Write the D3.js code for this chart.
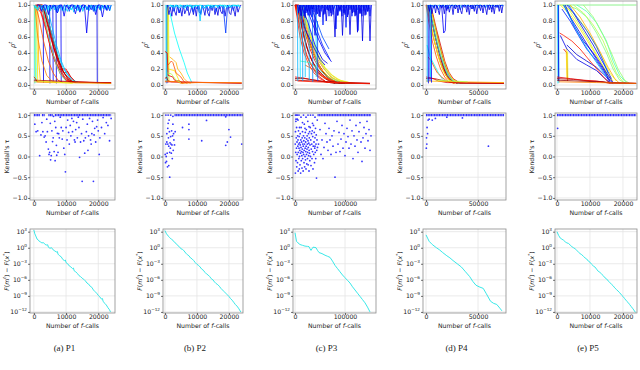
<!DOCTYPE html>
<html><head><meta charset="utf-8">
<script src="https://cdn.jsdelivr.net/npm/d3@7"></script>
<style>
body{margin:0;background:#fff;}
svg text{font-family:"DejaVu Sans",sans-serif;}
</style></head><body><svg id="chart" width="640" height="370"></svg>
<script>
const captions = ["(a) P1", "(b) P2", "(c) P3", "(d) P4", "(e) P5"];
const xLimits = [[-1200, 25200], [-600, 24400], [-4000, 162000], [-2900, 76900], [-600, 24250]];
const xTicks = [[0, 10000, 20000], [0, 10000, 20000], [0, 100000], [0, 50000], [0, 10000, 20000]];
const rhoTicks = [0, 0.2, 0.4, 0.6, 0.8, 1.0];
const tauTicks = [-1, -0.5, 0, 0.5, 1];
const gapTicks = [3, 0, -3, -6, -9, -12];

// rho^t runs: [colour value, x, y, x, y, ...]
const rhoP1 = [
  [0.1, 2900,1, 3000,0.03], [0.1, 4900,1, 5000,0.02], [0.12, 5900,1, 6000,0.05], [0.1, 6900,1, 7000,0.02],
  [0.12, 8400,1, 8500,0.03], [0.1, 19600,1, 19700,0.02], [0.35, 200,1, 300,0.02], [0.4, 600,1, 700,0.03],
  [0.55, 300,1, 500,0.05], [0.65, 800,1, 1000,0.6, 1200,0.04], [0.7, 1200,1, 1500,0.3, 2000,0.05],
  [0.95, 500,1, 2500,1, 3500,0.88, 5000,0.66, 6500,0.42, 8000,0.22, 9500,0.1, 11000,0.05, 13000,0.03, 24000,0.03],
  [0.9, 1000,1, 3000,0.98, 4500,0.8, 6000,0.55, 7500,0.33, 9000,0.18, 10500,0.08, 12000,0.04, 24000,0.02],
  [0.85, 1500,1, 3000,0.9, 4500,0.6, 6000,0.38, 7000,0.28, 8500,0.15, 10000,0.06, 12000,0.03],
  [0.88, 800,1, 2000,0.95, 3500,0.75, 5000,0.5, 6500,0.3, 8000,0.19, 9000,0.2, 10000,0.2, 11000,0.12, 12500,0.05, 14000,0.03],
  [0.8, 500,1, 1500,0.85, 3000,0.55, 4500,0.3, 6000,0.15, 7500,0.06, 9000,0.03],
  [0.75, 300,1, 1200,0.6, 2500,0.3, 4000,0.12, 5500,0.05, 7000,0.03],
  [0.98, 2000,1, 3500,0.95, 5000,0.72, 6500,0.5, 8000,0.28, 9500,0.14, 11000,0.06, 13000,0.03],
  [0.92, 1200,1, 2800,1, 4000,0.78, 5500,0.55, 7000,0.36, 8500,0.2, 9500,0.15, 10500,0.17, 11500,0.1, 13000,0.04],
  [0.94, 1800,1, 3200,0.93, 4800,0.7, 6200,0.47, 7600,0.3, 9000,0.17, 10500,0.1, 12000,0.05],
  [0.87, 600,1, 2200,0.9, 3800,0.68, 5200,0.46, 6800,0.27, 8200,0.14, 9800,0.07, 11500,0.03],
  [0.35, 3000,1, 4500,0.8, 6000,0.58, 7500,0.38, 9000,0.22, 10500,0.12, 12000,0.06, 14000,0.03],
  [0.3, 4000,1, 5500,0.75, 7000,0.5, 8500,0.3, 10000,0.16, 11500,0.08],
  [0.45, 2500,1, 4000,0.7, 5500,0.45, 7000,0.25, 8500,0.12, 10000,0.05],
  [0.9, 0,0.1, 500,0.08, 1000,0.04, 24000,0.03], [0.95, 0,0.06, 24000,0.025],
  [0.7, 0,0.04, 5000,0.03, 24000,0.02], [0.6, 1000,0.05, 9000,0.03, 12000,0.02]
];
const rhoP2 = [
  [0.1, 800,1, 900,0.03], [0.2, 500,1, 600,0.02], [0.35, 300,1, 400,0.03], [0.5, 700,1, 800,0.05], [0.6, 1100,1, 1300,0.04],
  [0.65, 900,0.97, 1000,0.2, 3000,0.18, 4500,0.05, 6000,0.02],
  [0.38, 1600,0.9, 3000,0.65, 4500,0.45, 6000,0.28, 7000,0.15, 8400,0.03],
  [0.7, 1500,0.35, 2500,0.32, 3500,0.28, 4000,0.2, 5000,0.15, 6000,0.08, 7000,0.04, 8000,0.02],
  [0.8, 1000,0.25, 2000,0.3, 2500,0.28, 3500,0.15, 5000,0.1, 6000,0.04, 7000,0.02],
  [0.9, 0,0.42, 700,0.4, 1000,0.12, 2500,0.1, 3000,0.06, 4500,0.05, 5500,0.02],
  [0.95, 0,0.08, 500,0.1, 1000,0.05, 2000,0.04, 24000,0.02], [0.85, 0,0.04, 24000,0.025],
  [0.75, 0,0.05, 4000,0.04, 5000,0.02, 10000,0.03, 24000,0.03], [0.55, 800,0.15, 2000,0.14, 3500,0.06, 5000,0.03]
];
const rhoP3 = [
  [0.95, 0,1, 8000,1, 15000,0.85, 25000,0.6, 35000,0.42, 45000,0.28, 55000,0.17, 65000,0.1, 75000,0.05, 90000,0.02],
  [0.9, 0,1, 5000,1, 12000,0.85, 20000,0.65, 30000,0.45, 40000,0.3, 50000,0.2, 60000,0.12, 70000,0.07, 85000,0.03],
  [1.0, 2000,1, 10000,0.95, 18000,0.75, 28000,0.55, 38000,0.38, 48000,0.25, 58000,0.15, 70000,0.08, 85000,0.03, 100000,0.02],
  [0.88, 0,1, 6000,0.92, 14000,0.7, 22000,0.5, 32000,0.33, 42000,0.22, 52000,0.14, 62000,0.08, 75000,0.03],
  [0.93, 3000,1, 12000,0.92, 20000,0.72, 30000,0.5, 40000,0.35, 50000,0.22, 62000,0.13, 75000,0.06, 90000,0.03],
  [0.97, 1000,1, 9000,0.9, 16000,0.68, 24000,0.47, 34000,0.3, 44000,0.18, 55000,0.1, 68000,0.05, 80000,0.02],
  [0.85, 0,1, 4000,0.85, 10000,0.6, 18000,0.4, 28000,0.25, 38000,0.15, 50000,0.08, 65000,0.03],
  [0.9, 500,1, 7000,0.8, 15000,0.55, 25000,0.35, 35000,0.22, 45000,0.12, 60000,0.05],
  [0.95, 1500,1, 10000,0.85, 17000,0.62, 27000,0.4, 37000,0.27, 47000,0.18, 60000,0.1, 72000,0.05, 95000,0.02],
  [0.82, 2000,1, 8000,0.8, 15000,0.55, 22000,0.38, 32000,0.25, 45000,0.15, 60000,0.09, 80000,0.04, 110000,0.02],
  [0.7, 8000,1, 18000,0.85, 28000,0.65, 40000,0.42, 55000,0.25, 70000,0.14, 85000,0.07, 100000,0.04, 115000,0.02],
  [0.6, 12000,1, 22000,0.8, 32000,0.6, 45000,0.4, 60000,0.22, 75000,0.12, 90000,0.06, 110000,0.03],
  [0.65, 5000,1, 14000,0.82, 25000,0.58, 38000,0.38, 52000,0.2, 68000,0.1, 85000,0.05, 105000,0.02],
  [0.75, 10000,1, 20000,0.78, 30000,0.55, 42000,0.35, 58000,0.2, 72000,0.1, 90000,0.04],
  [0.55, 15000,1, 25000,0.75, 38000,0.5, 50000,0.3, 65000,0.15, 80000,0.07, 100000,0.03, 120000,0.02],
  [0.45, 10000,0.3, 30000,0.28, 50000,0.18, 70000,0.08, 90000,0.03],
  [0.8, 20000,0.25, 35000,0.2, 50000,0.12, 65000,0.08, 80000,0.05],
  [1.0, 0,0.08, 20000,0.08, 40000,0.06, 60000,0.04, 80000,0.02, 150000,0.02],
  [0.9, 0,0.1, 15000,0.09, 30000,0.07, 50000,0.05, 70000,0.03, 150000,0.02],
  [0.95, 0,0.06, 150000,0.02], [0.85, 5000,0.05, 40000,0.04, 150000,0.015],
  [0.3, 5000,1, 5500,0.05], [0.35, 10000,1, 10500,0.08], [0.28, 15000,1, 15500,0.05], [0.32, 20000,1, 20500,0.1],
  [0.3, 28000,1, 28500,0.06], [0.25, 35000,1, 35500,0.04], [0.35, 42000,1, 42500,0.1], [0.2, 45000,0.8, 45500,0.05],
  [0.1, 12000,1, 25000,0.8, 40000,0.5, 55000,0.32, 65000,0.27],
  [0.12, 18000,1, 30000,0.85, 45000,0.6, 60000,0.4, 73000,0.29],
  [0.15, 25000,1, 40000,0.75, 55000,0.5, 70000,0.32],
  [0.2, 30000,1, 42000,0.82, 55000,0.6, 68000,0.45],
  [0.1, 10000,0.9, 20000,0.7, 35000,0.5, 50000,0.32, 60000,0.25]
];
const rhoP4 = [
  [0.95, 500,1, 3000,0.98, 6000,0.8, 10000,0.55, 14000,0.35, 18000,0.18, 22000,0.08, 26000,0.04, 30000,0.02, 75000,0.02],
  [0.9, 1000,1, 4000,0.9, 8000,0.65, 12000,0.45, 16000,0.28, 20000,0.14, 24000,0.06, 28000,0.03],
  [1.0, 2000,1, 5000,0.95, 9000,0.72, 13000,0.5, 17000,0.3, 21000,0.15, 25000,0.06, 30000,0.02],
  [0.85, 500,1, 3000,0.85, 7000,0.6, 11000,0.4, 15000,0.24, 19000,0.12, 23000,0.05, 27000,0.02],
  [0.92, 3000,1, 6000,0.92, 10000,0.7, 14000,0.5, 18000,0.3, 22000,0.16, 26000,0.08, 32000,0.03],
  [0.97, 1500,1, 4500,0.88, 8500,0.62, 12500,0.4, 16500,0.22, 20500,0.1, 25000,0.04],
  [0.8, 0,1, 2500,0.8, 6000,0.55, 10000,0.35, 14000,0.2, 18000,0.1, 22000,0.04, 28000,0.02],
  [0.75, 1000,1, 4000,0.78, 8000,0.55, 12000,0.35, 16000,0.2, 20000,0.1, 25000,0.04],
  [0.35, 2000,1, 5000,0.85, 9000,0.6, 13000,0.4, 17000,0.25, 21000,0.12, 26000,0.05, 32000,0.02],
  [0.5, 3000,1, 7000,0.8, 11000,0.55, 15000,0.35, 19000,0.2, 24000,0.08, 30000,0.03],
  [0.6, 1500,1, 5000,0.75, 9000,0.5, 13000,0.3, 17000,0.16, 22000,0.06, 28000,0.02],
  [0.68, 4000,1, 8000,0.78, 12000,0.55, 16000,0.36, 20000,0.2, 25000,0.08, 31000,0.03],
  [0.4, 1000,0.5, 4000,0.35, 8000,0.25, 12000,0.15, 16000,0.07, 20000,0.03],
  [0.8, 2000,0.35, 5000,0.3, 8000,0.22, 11000,0.15, 15000,0.1, 20000,0.05, 25000,0.03],
  [0.95, 0,0.08, 8000,0.08, 15000,0.06, 25000,0.03, 75000,0.02],
  [0.9, 0,0.1, 5000,0.09, 12000,0.05, 20000,0.03, 75000,0.025],
  [0.7, 0,0.05, 30000,0.04, 75000,0.03], [0.55, 10000,0.06, 25000,0.05, 40000,0.04],
  [0.1, 2000,1, 2300,0.02], [0.15, 3500,1, 3800,0.05], [0.12, 5000,1, 5300,0.03], [0.3, 1000,1, 1200,0.04], [0.35, 4000,1, 4300,0.1],
  [0.12, 15000,1, 17000,0.65, 18500,0.68, 19500,1]
];
const rhoP5 = [
  [0.5, 0,1, 24000,1],
  [0.5, 3000,1, 6000,0.95, 9000,0.85, 12000,0.65, 15000,0.4, 17000,0.2, 19000,0.06, 21000,0.02],
  [0.55, 5000,1, 8000,0.9, 11000,0.75, 14000,0.55, 16000,0.35, 18000,0.15, 20000,0.04],
  [0.6, 2000,1, 5000,0.9, 8000,0.75, 11000,0.55, 14000,0.32, 16000,0.15, 18000,0.05],
  [0.65, 1000,1, 4000,0.88, 7000,0.7, 10000,0.5, 13000,0.3, 15000,0.15, 17000,0.05],
  [0.45, 6000,1, 9000,0.92, 12000,0.78, 15000,0.55, 17000,0.3, 19000,0.12, 21000,0.03],
  [0.7, 4000,1, 7000,0.85, 10000,0.65, 13000,0.42, 15500,0.22, 17500,0.08, 19000,0.02],
  [0.52, 8000,1, 11000,0.85, 14000,0.62, 16500,0.4, 18500,0.2, 20500,0.06, 22000,0.02],
  [0.58, 1500,1, 3500,0.95, 6000,0.8, 9000,0.6, 12000,0.38, 14500,0.2, 16500,0.06],
  [0.1, 2000,1, 4000,0.85, 7000,0.65, 10000,0.45, 12000,0.32, 14000,0.2, 16000,0.06, 17000,0.02],
  [0.12, 3000,1, 5000,0.9, 8000,0.7, 11000,0.5, 13000,0.35, 15000,0.2, 16500,0.08],
  [0.15, 1500,0.95, 4000,0.8, 6500,0.62, 9000,0.45, 12000,0.3, 14500,0.15, 16000,0.05],
  [0.1, 2500,1, 5000,0.75, 8000,0.55, 11000,0.4, 13500,0.25, 15500,0.12, 17000,0.03],
  [0.2, 3500,1, 6000,0.85, 9000,0.68, 12000,0.48, 14000,0.3, 15500,0.15],
  [0.08, 3000,0.5, 6000,0.38, 9000,0.3, 12000,0.22, 14000,0.14, 15000,0.1, 16000,0.04],
  [0.1, 1000,0.62, 3000,0.45, 6000,0.32, 9000,0.25, 12000,0.18, 14000,0.1, 16000,0.03],
  [0.3, 2000,1, 4500,0.8, 7000,0.6, 10000,0.4, 13000,0.22, 15000,0.1],
  [0.85, 800,0.65, 2000,0.62, 4500,0.55, 7000,0.45, 10000,0.3, 12500,0.18, 14500,0.08, 16000,0.02],
  [0.9, 2000,0.45, 3000,0.4, 3200,0.05], [0.65, 2800,0.45, 3000,0.08], [0.6, 3200,0.42, 3300,0.06],
  [0.35, 200,1, 300,0.02], [0.3, 500,1, 600,0.03], [0.1, 400,1, 500,0.05],
  [0.95, 0,0.08, 5000,0.07, 10000,0.05, 14000,0.04, 16000,0.02, 24000,0.02],
  [0.9, 0,0.1, 4000,0.08, 8000,0.06, 12000,0.05, 15000,0.03, 24000,0.02],
  [0.98, 0,0.06, 24000,0.02], [0.75, 500,0.04, 12000,0.03, 24000,0.02]
];
// runs that stay near rho = 1: [colour value, first x, x step, values in %]
const bandP1 = [
  [0.32, 0, 400, [100,96,99,93,100,97,94,100,98,92,99,95,100,93,97,100,94,99,96,92,100,97,93,99,100,95,92,98,100,94,97,91,100,96,99,93,98,100,92,96,100,95,98,93,100,97,94,99,92,100,96,98,93,100,95,99,94,100,97,93,100]],
  [0.38, 300, 600, [100,95,98,100,94,97,100,93,99,96,100,94,98,100,95,92,99,100,96,94,100,98,93,100,97,95,100,94,99,96,100,93,98,100,95,97,100,94,99,96]],
  [0.2, 2000, 500, [100,97,100,93,100,98,100,95,100,99,91,100,96,100,94,100,98,100,92,100,97,100,95,100,99,93,100,96,100,94,100,98,100,92,100,96,100,94,100,97,100,95,100,93,100]],
  [0.12, 1000, 700, [100,100,92,100,100,88,100,97,100,90,100,100,86,100,95,100,100,89,100,91,100,100,65,100,94,100,88,100,100,85,100,93,100]]
];
const bandP2 = [
  [0.1, 800, 450, [100,88,97,86,100,92,87,100,90,96,86,100,89,94,100,87,92,100,88,98,86,100,91,89,100,95,87,100,90,86,99,93,100,88,96,87,100,92,89,100,86,97,100,90,88,100,94,86,100,91,97,100]],
  [0.18, 1000, 600, [100,95,100,92,100,97,90,100,96,100,93,100,98,91,100,95,100,88,100,96,100,93,100,97,100,92,100,95,100,90,65,100,96,100,93,100,97,100]],
  [0.32, 1500, 500, [100,98,100,97,100,99,96,100,98,100,97,100,99,100,96,100,98,100,97,80,100,98,100,97,100,99,96,100,98,100,97,100,99,100,96,100,98,100,97,100,99,100,98,100,97]],
  [0.38, 1200, 700, [99,100,97,100,98,100,99,96,100,98,100,97,100,99,100,98,96,100,99,100,97,100,98,100,99,100,97,100,98,100,99,100,97]]
];
const bandP3 = [
  [0.25, 8000, 3000, [100,96,100,98,94,100,97,100,95,100,98,100,93,100,97,100,96,100,98,94,100,97,100,95,100,98,100,93,100,97,100,96,100,98,100,95,100,97,100,94,100,98,100,96,100,97,100,95]],
  [0.15, 6000, 2000, [100,92,100,88,100,95,86,100,90,100,87,100,93,100,85,100,91,100,88,97,100,86,100,92,100,75,100,89,100,94,100,86,100,90,100,88,100,95,70,100,87,100,92,100,86,100,90,100,72,100,88,100,94,100,86,100,91,100,87,100,68,100,90,100,86,100,93,100,88,100,92,100,86,100]],
  [0.1, 5000, 2500, [100,90,100,86,97,100,84,100,92,100,87,100,95,100,62,100,89,100,85,98,100,88,100,80,100,93,100,86,100,91,60,100,87,100,94,100,62,100,88,100,85,100,63,100,90,100,86,100,66,100,89,100,55,100,87,100,92,100,55,100]]
];
const bandP4 = [
  [0.3, 2500, 2000, [99,100,98,100,97,100,99,100,98,100,96,100,99,100,98,100,97,100,99,100,98,100,96,100,99,100,98,100,97,100,99,100,98,100,97,100,99]],
  [0.2, 3000, 1500, [100,98,100,96,100,99,94,100,98,100,97,100,95,100,99,100,96,100,98,100,94,100,99,100,97,100,98,100,95,100,99,100,96,100,98,100,97,100,99,100,95,100,98,100,97,100,99,100]],
  [0.1, 2000, 1200, [100,92,100,89,97,100,90,100,94,88,100,96,100,89,100,93,100,91,98,100,88,100,95,100,90,100,93,89,100,97,100,91,100,88,100,95,100,92,100,89,99,100,93,100,90,100,96,88,100,94,100,91,100,89,100,97,100,92,100,90,100]]
];
const bandP5 = [];

// Kendall's tau points [x, tau]
const tauP1 = [[300,0.78],[700,0.6],[1200,0.62],[1800,0.02],[2200,0.52],[2500,0.82],[2800,0.6],[3200,0.47],[3500,0.5],[3800,0.35],[4000,0.9],[4200,0.6],[4500,0.18],[4700,0.05],[4900,0.1],[5100,0.8],[5200,-0.08],[5400,0.02],[5600,0.62],[5800,0.36],[6000,0.45],[6100,0.97],[6300,0.12],[6500,0.85],[6600,-0.1],[6800,0.7],[7000,0.27],[7100,0.03],[7300,0.56],[7500,0.1],[7700,0.55],[7900,0.45],[8200,0.95],[8500,0.7],[8800,0.42],[9000,0.62],[9300,0.2],[9600,0.05],[9800,-0.37],[10000,0.7],[10300,0.4],[10500,0.88],[10800,0.58],[11000,0.3],[11300,0.75],[11500,0.5],[11800,0.92],[12000,0.6],[12300,0.85],[12600,0.4],[12800,0.35],[13000,0.65],[13300,0.82],[13500,0.45],[13800,0.95],[14000,0.7],[14200,-0.02],[14500,0.35],[14800,0.55],[15000,-0.6],[15200,0.9],[15500,0.38],[15800,0.08],[16000,0.45],[16300,0.6],[16600,0.78],[16800,0.15],[17000,0.5],[17300,0.92],[17600,0.4],[17800,0.3],[18000,0.55],[18200,0.85],[18500,-0.6],[18700,0.52],[18900,0.68],[19200,0.35],[19500,0.72],[19800,0.88],[20000,0.62],[20300,0.05],[20500,0.45],[21000,0.7],[21500,0.94],[22000,0.55],[22500,0.82],[23000,0.75],[23500,0.38],[24000,0.92]];
const tauP2 = [[100,0.05],[200,-0.15],[300,0.3],[400,0.0],[500,-0.12],[600,0.55],[600,0.35],[700,0.08],[800,-0.25],[900,0.3],[900,0.68],[1000,0.8],[1100,0.45],[1200,0.25],[1200,-0.22],[1300,0.88],[1400,0.6],[1500,-0.5],[1500,0.1],[1600,0.33],[1700,0.2],[1800,0.48],[1900,0.3],[2000,0.08],[2100,0.62],[2200,0.28],[2300,-0.05],[2400,0.5],[2500,0.78],[2600,0.15],[2700,0.55],[2800,0.4],[3000,0.28],[3200,0.6],[5500,0.7],[7500,0.78],[7500,0.65],[7500,0.42],[11500,0.38],[13000,0.87],[19000,0.96],[19000,0.27],[19500,0.35],[20000,0.65],[20500,0.47],[24000,0.3],[300,1],[1000,1],[1800,1],[2500,0.97]];
const tauP3 = [[500,0.3],[800,-0.4],[1000,0.6],[1500,0.1],[1800,0.85],[2000,-0.1],[2500,0.45],[3000,0.2],[3200,0.7],[3500,-0.25],[4000,0.35],[4300,0.05],[4500,0.9],[5000,-0.15],[5300,0.5],[5600,0.25],[6000,0.4],[6300,-0.35],[6600,0.1],[7000,0.62],[7300,0.3],[7600,-0.05],[8000,0.2],[8300,0.48],[8600,-0.3],[9000,0.0],[9300,0.33],[9600,0.15],[10000,-0.2],[10300,0.55],[10600,0.28],[11000,0.08],[11300,-0.4],[11600,0.4],[12000,0.22],[12300,0.7],[12600,-0.1],[13000,0.12],[13300,0.35],[13600,0.02],[14000,-0.28],[14300,0.45],[14600,0.18],[15000,0.6],[15300,-0.05],[15600,0.3],[16000,0.1],[16300,-0.35],[16600,0.25],[17000,0.5],[17300,0.05],[17600,0.38],[18000,-0.15],[18300,0.15],[18600,0.78],[19000,0.3],[19300,-0.25],[19600,0.45],[20000,0.0],[20300,0.2],[20600,0.58],[21000,-0.08],[21300,0.35],[21600,0.12],[22000,-0.3],[22300,0.25],[22600,0.65],[23000,0.05],[23300,0.42],[23600,-0.18],[24000,0.18],[24300,0.5],[24600,0.3],[25000,-0.05],[25300,0.1],[25600,0.85],[26000,0.38],[26300,-0.2],[26600,0.22],[27000,0.55],[27300,0.02],[27600,0.32],[28000,-0.35],[28300,0.15],[28600,0.45],[29000,0.08],[29300,0.6],[29600,-0.1],[30000,0.28],[30500,0.7],[31000,0.0],[31500,0.4],[32000,-0.22],[32500,0.18],[33000,0.55],[33500,0.3],[34000,-0.05],[34500,0.62],[35000,0.12],[35500,0.48],[36000,-0.3],[36500,0.25],[37000,0.75],[37500,0.05],[38000,0.35],[38500,0.58],[39000,-0.15],[39500,0.2],[40000,0.45],[40500,0.1],[41000,0.68],[41500,-0.05],[42000,0.3],[42500,0.52],[43000,-0.52],[43500,0.15],[44000,0.4],[44500,0.88],[45000,0.22],[2000,0.9],[6000,0.88],[9000,0.7],[15000,0.82],[20000,0.68],[28000,0.72],[35000,0.8],[40000,0.25],[47000,0.3],[50000,0.65],[52000,0.05],[54000,0.4],[56000,-0.05],[58000,0.22],[60000,0.8],[62000,0.55],[64000,0.35],[66000,0.15],[68000,0.68],[70000,0.4],[72000,0.05],[74000,0.5],[76000,0.25],[78000,0.62],[80000,-0.5],[82000,0.1],[84000,0.85],[86000,0.3],[88000,0.58],[90000,0.12],[92000,0.42],[94000,0.75],[96000,0.2],[98000,0.55],[100000,0.02],[102000,0.35],[104000,0.68],[106000,0.48],[108000,0.2],[110000,0.88],[112000,0.3],[114000,0.62],[116000,-0.05],[118000,0.5],[120000,0.25],[122000,0.75],[124000,0.4],[126000,0.1],[128000,0.6],[130000,0.82],[132000,0.35],[134000,-0.12],[136000,0.45],[138000,0.7],[140000,0.2],[142000,0.55],[144000,0.85],[146000,0.38],[148000,0.65],[150000,0.15],[152000,0.5],[1000,1],[3000,1],[5000,1],[8000,1],[12000,0.95],[17000,1],[22000,0.95],[26000,1],[31000,1],[36000,1],[40000,0.95]];
const tauP4 = [[300,0.2],[500,0.45],[800,0.3],[1000,0.7],[1500,0.55],[2000,0.88],[3000,0.9],[6000,0.88],[9000,0.92],[20000,0.95],[35000,0.93],[60000,0.25]];
const tauP5 = [[200,0.68]];
// stretches where tau = 1 for (almost) every call: [from, to]
const tauOneP1 = [[0, 2000], [2500, 3500], [4500, 6000], [6500, 24000]];
const tauOneP2 = [[3000, 24500]];
const tauOneP3 = [[45000, 152000]];
const tauOneP4 = [[0, 75000]];
const tauOneP5 = [[0, 24000]];

// F(m^t) - F(x*) as [x, log10 value]
const gapP1 = [[0,3.3],[300,2.6],[600,2.2],[1000,1.6],[1300,1.5],[1500,1.3],[2000,1.1],[2500,0.9],[3000,0.95],[3500,0.6],[4000,0.5],[4300,0.55],[4500,0.1],[5000,-0.1],[5500,0.0],[6000,-0.4],[6500,-0.6],[7000,-0.8],[7300,-0.7],[7500,-1.2],[8000,-1.5],[8500,-1.7],[9000,-2.2],[9500,-2.4],[9800,-2.3],[10000,-2.8],[10500,-3.0],[11000,-3.4],[11500,-3.6],[12000,-3.9],[12300,-3.8],[12500,-4.3],[13000,-4.5],[13500,-4.8],[14000,-5.2],[14500,-5.4],[15000,-5.7],[15500,-5.9],[16000,-6.2],[16500,-6.6],[17000,-6.8],[17500,-7.2],[18000,-7.4],[18500,-7.9],[19000,-8.2],[19500,-8.5],[20000,-8.9],[20500,-9.2],[21000,-9.6],[21300,-9.5],[21500,-10.0],[22000,-10.4],[22500,-10.7],[23000,-11.2],[23500,-11.6],[23800,-12.0]];
const gapP2 = [[0,3.2],[500,2.6],[1000,2.2],[1500,1.9],[2000,1.6],[2500,1.4],[3000,1.0],[3500,0.8],[4000,0.4],[4500,0.2],[5000,-0.2],[5500,-0.3],[6000,-0.6],[6500,-1.0],[7000,-1.3],[7500,-1.5],[8000,-1.9],[8500,-2.1],[9000,-2.4],[9500,-2.8],[10000,-3.1],[10500,-3.3],[11000,-3.6],[11500,-4.0],[12000,-4.2],[12500,-4.6],[13000,-4.9],[13500,-5.1],[14000,-5.4],[14500,-5.8],[15000,-6.0],[15500,-6.4],[16000,-6.7],[16500,-6.9],[17000,-7.2],[17500,-7.6],[18000,-7.9],[18500,-8.2],[19000,-8.5],[19500,-8.8],[20000,-9.1],[20500,-9.5],[21000,-9.8],[21500,-10.2],[22000,-10.6],[22500,-10.9],[23000,-11.3],[23700,-12.0]];
const gapP3 = [[0,2.8],[1500,2.0],[3000,1.2],[6000,0.9],[10000,0.6],[15000,0.45],[20000,0.3],[25000,0.25],[28000,0.2],[30000,-0.2],[32000,-0.5],[34000,-0.2],[36000,0.1],[40000,0.05],[42000,0.0],[45000,-0.5],[48000,-0.9],[54000,-1.1],[60000,-1.4],[65000,-1.6],[70000,-1.8],[75000,-2.5],[80000,-3.3],[85000,-3.9],[90000,-4.5],[95000,-5.1],[100000,-5.6],[105000,-6.1],[110000,-6.6],[115000,-7.3],[120000,-7.9],[125000,-8.5],[130000,-9.1],[135000,-9.7],[140000,-10.3],[145000,-11.1],[150000,-12.0]];
const gapP4 = [[0,2.4],[1500,1.8],[3000,1.2],[6000,0.6],[10000,0.0],[13000,-0.4],[16000,-0.9],[20000,-1.5],[23000,-1.9],[26000,-2.4],[30000,-3.0],[34000,-3.6],[38000,-4.5],[42000,-5.4],[45000,-6.3],[48000,-7.0],[51000,-7.3],[55000,-7.6],[58000,-8.6],[62000,-10.0],[65000,-10.4],[68000,-10.6],[71000,-11.3],[73000,-11.8]];
const gapP5 = [[0,3.0],[500,2.3],[1000,1.8],[1500,1.6],[2000,1.4],[2500,1.1],[3000,0.9],[3500,0.8],[4000,0.5],[4500,0.2],[5000,0.0],[5500,-0.2],[6000,-0.5],[6500,-0.8],[7000,-1.1],[7500,-1.3],[8000,-1.6],[8500,-1.9],[9000,-2.1],[9500,-2.5],[10000,-2.7],[10500,-3.1],[11000,-3.4],[11500,-3.6],[12000,-4.0],[12500,-4.4],[13000,-4.6],[13500,-4.9],[14000,-5.2],[14500,-5.6],[15000,-5.8],[15500,-6.2],[16000,-6.5],[16500,-6.8],[17000,-7.1],[17500,-7.5],[18000,-7.8],[18500,-8.1],[19000,-8.4],[19500,-8.8],[20000,-9.1],[20500,-9.5],[21000,-9.9],[21500,-10.2],[22000,-10.6],[22500,-11.0],[23000,-11.4],[23800,-12.1]];

const rhoRuns = [rhoP1, rhoP2, rhoP3, rhoP4, rhoP5];
const rhoBands = [bandP1, bandP2, bandP3, bandP4, bandP5];
const tauPts = [tauP1, tauP2, tauP3, tauP4, tauP5];
const tauOne = [tauOneP1, tauOneP2, tauOneP3, tauOneP4, tauOneP5];
const gaps = [gapP1, gapP2, gapP3, gapP4, gapP5];

// layout
const colX = [[30, 115], [163, 243], [293, 376], [423, 506], [555, 637]];
const rowY = [[1, 89], [113, 200], [229, 313]];
const fs = 6.2;
const svg = d3.select("#chart");
const defs = svg.append("defs");

function jet(t) {
  const c = v => Math.max(0, Math.min(1, v));
  return d3.rgb(255 * c(1.5 - Math.abs(4 * t - 3)), 255 * c(1.5 - Math.abs(4 * t - 2)), 255 * c(1.5 - Math.abs(4 * t - 1))).formatHex();
}

function xLabel(g, x, y) {
  const t = g.append("text").attr("x", x).attr("y", y).attr("text-anchor", "middle").attr("font-size", fs).attr("fill", "#222");
  t.append("tspan").text("Number of ");
  t.append("tspan").attr("font-style", "italic").text("f");
  t.append("tspan").text("-calls");
}

function panel(col, row, y, yTicks, yFmt) {
  const [l, r] = colX[col], [t, b] = rowY[row];
  const x = d3.scaleLinear().domain(xLimits[col]).range([l, r]);
  const g = svg.append("g");
  // grid
  g.append("g").selectAll("line").data(xTicks[col]).join("line")
    .attr("x1", d => x(d)).attr("x2", d => x(d)).attr("y1", t).attr("y2", b)
    .attr("stroke", "#e4e4e4").attr("stroke-width", 0.8);
  g.append("g").selectAll("line").data(yTicks).join("line")
    .attr("x1", l).attr("x2", r).attr("y1", d => y(d)).attr("y2", d => y(d))
    .attr("stroke", "#e4e4e4").attr("stroke-width", 0.8);
  const id = "clip" + col + row;
  defs.append("clipPath").attr("id", id).append("rect").attr("x", l).attr("y", t).attr("width", r - l).attr("height", b - t);
  const plot = g.append("g").attr("clip-path", `url(#${id})`);
  g.append("rect").attr("x", l).attr("y", t).attr("width", r - l).attr("height", b - t)
    .attr("fill", "none").attr("stroke", "#8c8c8c").attr("stroke-width", 0.8);
  // x ticks
  const xa = g.append("g").attr("transform", `translate(0,${b})`)
    .call(d3.axisBottom(x).tickValues(xTicks[col]).tickSize(2).tickPadding(0).tickFormat(d3.format("d")));
  xa.select(".domain").remove();
  xa.selectAll("line").attr("stroke", "#333").attr("stroke-width", 0.7);
  xa.selectAll("text").attr("font-size", fs).attr("font-family", "DejaVu Sans").attr("fill", "#222");
  // y ticks
  const ya = g.append("g").attr("transform", `translate(${l},0)`)
    .call(d3.axisLeft(y).tickValues(yTicks).tickSize(2).tickPadding(0.5).tickFormat(yFmt || ""));
  ya.select(".domain").remove();
  ya.selectAll("line").attr("stroke", "#333").attr("stroke-width", 0.7);
  ya.selectAll("text").attr("font-size", fs).attr("font-family", "DejaVu Sans").attr("fill", "#222");
  xLabel(g, (l + r) / 2, b + 15.3);
  return {x, g, plot, l, t, b};
}

const line = d3.line();

captions.forEach((cap, i) => {
  // row 1: rho^t
  const y1 = d3.scaleLinear().domain([-0.05, 1.05]).range([rowY[0][1], rowY[0][0]]);
  const p1 = panel(i, 0, y1, rhoTicks, d3.format(".1f"));
  const runs = rhoRuns[i].map(r => ({c: r[0], pts: d3.range(1, r.length, 2).map(k => [r[k], r[k + 1]])}));
  const bands = rhoBands[i].map(b => ({c: b[0], pts: b[3].map((v, k) => [b[1] + k * b[2], v / 100])}));
  p1.plot.selectAll("path").data(runs.concat(bands)).join("path")
    .attr("d", d => line(d.pts.map(p => [p1.x(p[0]), y1(p[1])])))
    .attr("fill", "none").attr("stroke", d => jet(d.c)).attr("stroke-width", 0.8);
  const yl1 = p1.g.append("text").attr("transform", `translate(${p1.l - 15},${(p1.t + p1.b) / 2}) rotate(-90)`)
    .attr("text-anchor", "middle").attr("font-size", fs + 0.5).attr("fill", "#222");
  yl1.append("tspan").attr("font-style", "italic").text("ρ");
  yl1.append("tspan").attr("font-style", "italic").attr("font-size", 5).attr("dy", -3).text("t");

  // row 2: Kendall's tau
  const y2 = d3.scaleLinear().domain([-1.05, 1.05]).range([rowY[1][1], rowY[1][0]]);
  const p2 = panel(i, 1, y2, tauTicks, d3.format(".1f"));
  p2.plot.selectAll("line.one").data(tauOne[i]).join("line").attr("class", "one")
    .attr("x1", d => p2.x(d[0])).attr("x2", d => p2.x(d[1])).attr("y1", y2(1)).attr("y2", y2(1))
    .attr("stroke", "#3030ff").attr("stroke-width", 2.2).attr("stroke-dasharray", "1.2,0.4");
  p2.plot.selectAll("circle").data(tauPts[i]).join("circle")
    .attr("cx", d => p2.x(d[0])).attr("cy", d => y2(d[1])).attr("r", 0.9).attr("fill", "#3535ff");
  p2.g.append("text").attr("transform", `translate(${p2.l - 21},${(p2.t + p2.b) / 2}) rotate(-90)`)
    .attr("text-anchor", "middle").attr("font-size", fs).attr("fill", "#222").text("Kendall's τ");

  // row 3: F(m^t) - F(x*)
  const y3 = d3.scaleLog().domain([Math.pow(10, -12.2), Math.pow(10, 3.5)]).range([rowY[2][1], rowY[2][0]]);
  const p3 = panel(i, 2, y3, gapTicks.map(e => Math.pow(10, e)), () => "");
  p3.plot.append("path")
    .attr("d", line(gaps[i].map(p => [p3.x(p[0]), y3(Math.pow(10, p[1]))])))
    .attr("fill", "none").attr("stroke", "#22e5e5").attr("stroke-width", 0.9);
  gapTicks.forEach(e => {
    const tx = p3.g.append("text").attr("x", p3.l - 3).attr("y", y3(Math.pow(10, e)) + 2.3)
      .attr("text-anchor", "end").attr("font-size", fs).attr("fill", "#222");
    tx.append("tspan").text("10");
    tx.append("tspan").attr("font-size", 4.2).attr("dy", -3).text(e < 0 ? "−" + (-e) : e);
  });
  const yl3 = p3.g.append("text").attr("transform", `translate(${p3.l - 21.5},${(p3.t + p3.b) / 2}) rotate(-90)`)
    .attr("text-anchor", "middle").attr("font-size", fs).attr("fill", "#222");
  yl3.append("tspan").attr("font-style", "italic").text("F");
  yl3.append("tspan").text("(");
  yl3.append("tspan").attr("font-style", "italic").text("m");
  yl3.append("tspan").attr("font-style", "italic").attr("font-size", 4.4).attr("dy", -3).text("t");
  yl3.append("tspan").attr("dy", 3).text(") − ");
  yl3.append("tspan").attr("font-style", "italic").text("F");
  yl3.append("tspan").text("(");
  yl3.append("tspan").attr("font-style", "italic").text("x");
  yl3.append("tspan").attr("font-size", 4.4).attr("dy", -3).text("*");
  yl3.append("tspan").attr("dy", 3).text(")");

  // caption
  svg.append("text").attr("x", (colX[i][0] + colX[i][1]) / 2 - 8).attr("y", 351)
    .attr("text-anchor", "middle").attr("font-size", 9).attr("fill", "#222")
    .style("font-family", "'Liberation Serif', serif").text(cap);
});
</script></body></html>
